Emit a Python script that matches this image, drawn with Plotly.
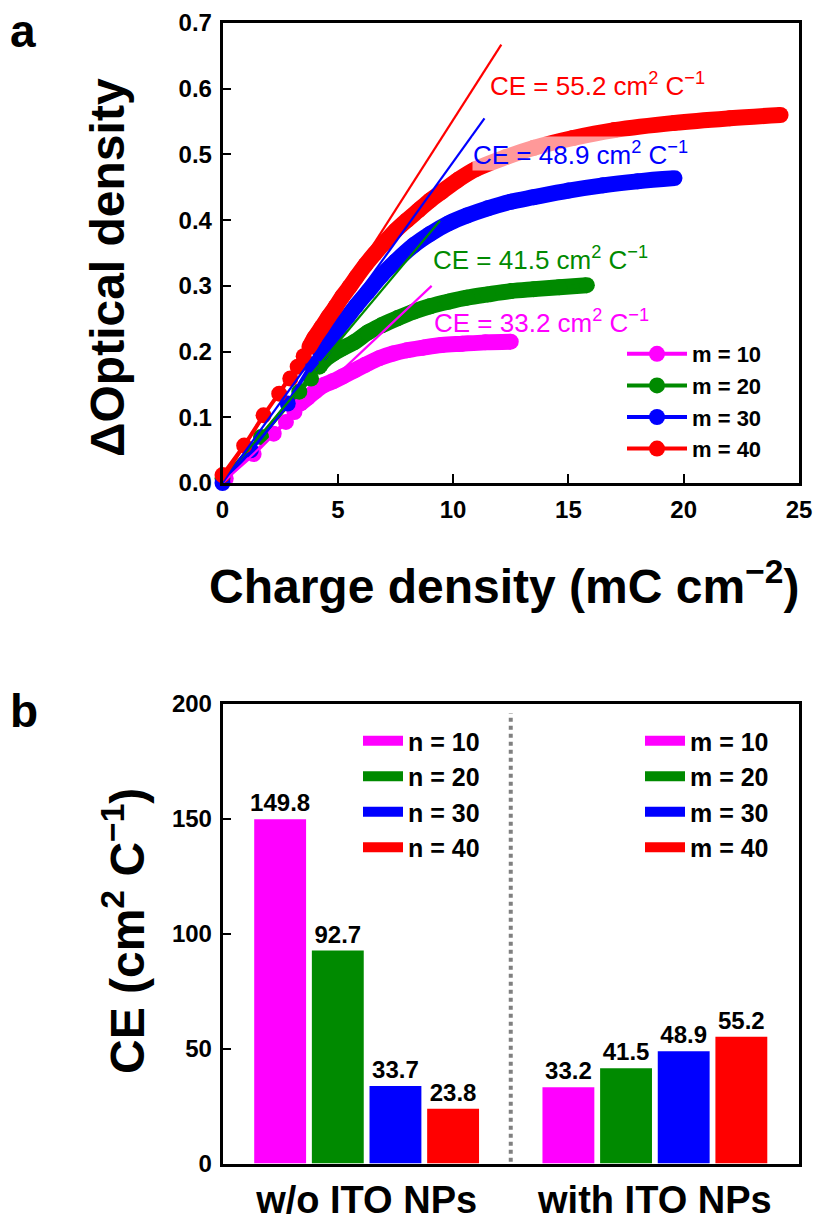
import plotly.graph_objects as go

# ---------------- Panel a data ----------------
series_names = ["m = 10", "m = 20", "m = 30", "m = 40"]
colors = ["#FF00FF", "#008A00", "#0000FF", "#FF0000"]

charge_m10 = [0.14, 1.35, 2.22, 2.75, 3.12, 3.38, 3.7, 4.0, 4.4, 4.8, 5.2, 5.7, 6.2, 6.8, 7.4, 8.0, 8.7, 9.5, 10.4, 11.4, 12.5]
od_m10 = [0.007, 0.044, 0.075, 0.093, 0.108, 0.121, 0.130, 0.139, 0.149, 0.155, 0.162, 0.171, 0.180, 0.190, 0.197, 0.202, 0.206, 0.210, 0.212, 0.214, 0.215]

charge_m20 = [0.0, 1.67, 3.33, 3.84, 4.2, 4.42, 4.8, 5.2, 5.7, 6.3, 6.9, 7.6, 8.3, 9.0, 9.8, 10.6, 11.5, 12.5, 13.5, 14.6, 15.8]
od_m20 = [0.007, 0.070, 0.139, 0.159, 0.177, 0.187, 0.197, 0.205, 0.214, 0.229, 0.240, 0.251, 0.261, 0.269, 0.276, 0.282, 0.287, 0.292, 0.295, 0.298, 0.301]

charge_m30 = [0.0, 1.23, 2.83, 3.84, 4.25, 4.64, 5.0, 5.4, 5.8, 6.3, 6.9, 7.5, 8.3, 9.0, 9.8, 10.6, 11.5, 12.5, 13.5, 15.0, 16.5, 18.0, 19.6]
od_m30 = [0.0, 0.050, 0.121, 0.180, 0.197, 0.217, 0.234, 0.252, 0.270, 0.291, 0.316, 0.337, 0.362, 0.379, 0.395, 0.407, 0.418, 0.428, 0.435, 0.445, 0.453, 0.459, 0.464]

charge_m40 = [0.0, 0.94, 1.78, 2.46, 2.94, 3.26, 3.52, 3.77, 3.99, 4.3, 4.6, 4.9, 5.2, 5.5, 5.8, 6.2, 6.6, 7.0, 7.5, 8.0, 8.5, 9.0, 9.5, 10.2, 11.0, 12.3, 13.5, 15.2, 17.0, 19.6, 22.0, 24.2]
od_m40 = [0.012, 0.057, 0.103, 0.136, 0.159, 0.177, 0.193, 0.207, 0.221, 0.237, 0.253, 0.268, 0.284, 0.298, 0.313, 0.332, 0.349, 0.365, 0.384, 0.400, 0.415, 0.430, 0.443, 0.461, 0.478, 0.496, 0.510, 0.525, 0.537, 0.548, 0.555, 0.560]

charges = [charge_m10, charge_m20, charge_m30, charge_m40]
ods = [od_m10, od_m20, od_m30, od_m40]
# first index of the densely sampled part of each curve
dense_start = [5, 4, 4, 7]

# linear fits (start and end of each fitted line)
fit_start_charge = [0.0, 0.0, 0.0, 0.0]
fit_start_od = [0.0, 0.004, 0.0, 0.004]
fit_end_charge = [9.07, 9.43, 11.36, 12.09]
fit_end_od = [0.300, 0.399, 0.555, 0.667]

# ---------------- Panel b data ----------------
groups = ["w/o ITO NPs", "with ITO NPs"]
n_labels = ["n = 10", "n = 20", "n = 30", "n = 40"]
m_labels = ["m = 10", "m = 20", "m = 30", "m = 40"]
ce_without_ito = [149.8, 92.7, 33.7, 23.8]
ce_with_ito = [33.2, 41.5, 48.9, 55.2]

FONT = "Liberation Sans, Arial, sans-serif"
W, H = 815, 1226

fig = go.Figure()

# ---- panel a traces ----
for i in range(4):
    xs, ys = charges[i], ods[i]
    k = dense_start[i]
    fig.add_trace(go.Scatter(
        x=xs[k:], y=ys[k:], mode="lines",
        line=dict(color=colors[i], width=16, shape="spline"),
        showlegend=False, hoverinfo="skip", cliponaxis=False,
        xaxis="x", yaxis="y"))
    fig.add_trace(go.Scatter(
        x=xs, y=ys, mode="lines+markers", name=series_names[i],
        line=dict(color=colors[i], width=4),
        marker=dict(color=colors[i], size=16),
        cliponaxis=False, legend="legend", xaxis="x", yaxis="y"))

for i in range(4):
    fig.add_trace(go.Scatter(
        x=[fit_start_charge[i], fit_end_charge[i]],
        y=[fit_start_od[i], fit_end_od[i]],
        mode="lines", line=dict(color=colors[i], width=2.2),
        showlegend=False, hoverinfo="skip", xaxis="x", yaxis="y"))

# CE labels on panel a
label_pos = [(9.13, 0.2455), (9.07, 0.342), (10.81, 0.502), (11.57, 0.606)]
label_bg = ["rgba(0,0,0,0)", "rgba(0,0,0,0)", "rgba(255,255,255,0.6)", "rgba(0,0,0,0)"]
for i in range(4):
    fig.add_annotation(
        x=label_pos[i][0], y=label_pos[i][1], xref="x", yref="y",
        xanchor="left", yanchor="middle", showarrow=False,
        text=f"CE = {ce_with_ito[i]} cm<sup>2</sup> C<sup>\u22121</sup>",
        font=dict(family=FONT, size=26, color=colors[i]),
        bgcolor=label_bg[i], borderpad=0)

# ---- panel b traces ----
bar_text_font = dict(family=FONT, size=24, color="black", weight="bold")
for i in range(4):
    fig.add_trace(go.Bar(
        x=[groups[0]], y=[ce_without_ito[i]], offsetgroup=str(i),
        marker=dict(color=colors[i], line=dict(width=0)),
        text=[f"{ce_without_ito[i]}"], textposition="outside",
        textfont=bar_text_font, constraintext="none",
        cliponaxis=False, showlegend=False, xaxis="x2", yaxis="y2"))
    fig.add_trace(go.Bar(
        x=[groups[1]], y=[ce_with_ito[i]], offsetgroup=str(i),
        marker=dict(color=colors[i], line=dict(width=0)),
        text=[f"{ce_with_ito[i]}"], textposition="outside",
        textfont=bar_text_font, constraintext="none",
        cliponaxis=False, showlegend=False, xaxis="x2", yaxis="y2"))

# legend entries for the bar groups
for i in range(4):
    fig.add_trace(go.Scatter(
        x=[None], y=[None], mode="lines", name=n_labels[i],
        line=dict(color=colors[i], width=10),
        legend="legend2", xaxis="x2", yaxis="y2"))
    fig.add_trace(go.Scatter(
        x=[None], y=[None], mode="lines", name=m_labels[i],
        line=dict(color=colors[i], width=10),
        legend="legend3", xaxis="x2", yaxis="y2"))

# dotted separator
fig.add_shape(type="line", xref="x2", yref="y2", x0=0.5, x1=0.5, y0=0.8, y1=196,
              line=dict(color="#808080", width=4, dash="dot"))

xl, xr = 222.5 / W, 799 / W
top_dom = [(H - 483) / H, (H - 23) / H]
bot_dom = [(H - 1163.5) / H, (H - 704) / H]

axis_common = dict(showline=True, linecolor="black", linewidth=2.5, mirror=True,
                   showgrid=False, zeroline=False, automargin=False,
                   tickfont=dict(family=FONT, size=24, color="black", weight="bold"))

fig.update_layout(
    width=W, height=H, margin=dict(l=0, r=0, t=0, b=0),
    paper_bgcolor="white", plot_bgcolor="white",
    barmode="group", bargap=0.2, bargroupgap=0.1,
    font=dict(family=FONT, color="black"),
    xaxis=dict(domain=[xl, xr], range=[0, 25], tickvals=[0, 5, 10, 15, 20, 25],
               ticks="inside", ticklen=9, tickwidth=2, tickcolor="black",
               ticklabelstandoff=3, anchor="y", **axis_common),
    yaxis=dict(domain=top_dom, range=[0, 0.7], tickvals=[0, 0.1, 0.2, 0.3, 0.4, 0.5, 0.6, 0.7],
               tickformat=".1f", ticks="inside", ticklen=9, tickwidth=2, tickcolor="black",
               ticklabelstandoff=3, anchor="x", **axis_common),
    xaxis2=dict(domain=[xl, xr], range=[-0.5, 1.5], type="category",
                ticks="", ticklabelstandoff=1, anchor="y2",
                **{**axis_common, "tickfont": dict(family=FONT, size=38, color="black", weight="bold")}),
    yaxis2=dict(domain=bot_dom, range=[0, 200], tickvals=[0, 50, 100, 150, 200],
                ticks="inside", ticklen=9, tickwidth=2, tickcolor="black",
                ticklabelstandoff=3, anchor="x2", **axis_common),
    legend=dict(x=622 / W, y=1 - 333 / H, xanchor="left", yanchor="top",
                bgcolor="rgba(0,0,0,0)", borderwidth=0, itemwidth=60,
                font=dict(family=FONT, size=22, color="black", weight="bold"),
                itemsizing="trace", tracegroupgap=0),
    legend2=dict(x=358 / W, y=1 - 718 / H, xanchor="left", yanchor="top",
                 bgcolor="rgba(0,0,0,0)", borderwidth=0, itemwidth=40,
                 font=dict(family=FONT, size=25, color="black", weight="bold")),
    legend3=dict(x=640 / W, y=1 - 718 / H, xanchor="left", yanchor="top",
                 bgcolor="rgba(0,0,0,0)", borderwidth=0, itemwidth=40,
                 font=dict(family=FONT, size=25, color="black", weight="bold")),
)

# axis titles and panel letters
title_font = dict(family=FONT, size=48, color="black", weight="bold")
fig.add_annotation(x=108 / W, y=1 - 268 / H, xref="paper", yref="paper",
                   xanchor="center", yanchor="middle",
                   text="\u0394Optical density", textangle=-90, showarrow=False,
                   font=title_font)
fig.add_annotation(x=504 / W, y=1 - 583 / H, xref="paper", yref="paper",
                   xanchor="center", yanchor="middle",
                   text="Charge density (mC cm<sup>\u22122</sup>)", showarrow=False,
                   font=title_font)
fig.add_annotation(x=124 / W, y=1 - 931 / H, xref="paper", yref="paper",
                   xanchor="center", yanchor="middle",
                   text="CE (cm<sup>2</sup> C<sup>\u22121</sup>)", textangle=-90, showarrow=False,
                   font=title_font)
fig.add_annotation(x=23 / W, y=1 - 31 / H, xref="paper", yref="paper",
                   xanchor="center", yanchor="middle",
                   text="a", showarrow=False,
                   font=dict(family=FONT, size=46, color="black", weight="bold"))
fig.add_annotation(x=24 / W, y=1 - 711 / H, xref="paper", yref="paper",
                   xanchor="center", yanchor="middle",
                   text="b", showarrow=False,
                   font=dict(family=FONT, size=46, color="black", weight="bold"))

fig.write_html("out.html")
